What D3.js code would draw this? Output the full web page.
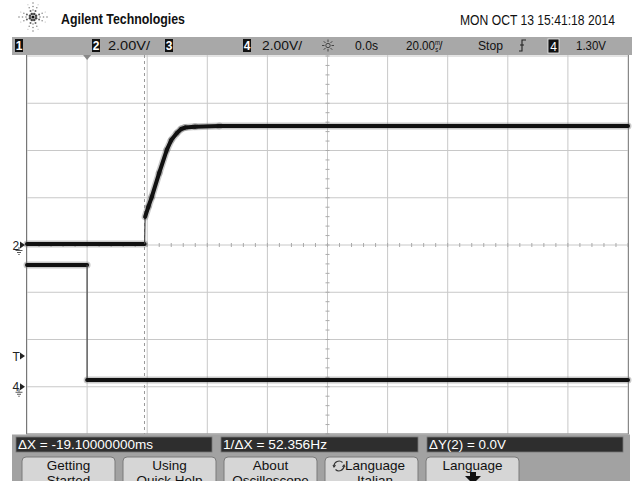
<!DOCTYPE html>
<html><head><meta charset="utf-8">
<script src="https://cdn.jsdelivr.net/npm/d3@7"></script>
<style>html,body{margin:0;padding:0;background:#fff;overflow:hidden}</style>
</head><body><svg id="c" width="636" height="481"></svg>
<script>
// ---------------- data ----------------
const ch2Time  = [-20, 19.14, 19.3, 20.4, 21.5, 24.0, 26.5, 28.0, 29.9, 31.3, 32.6, 35.9, 44, 180];
const ch2Volts = [0.04, 0.04, 1.19, 1.62, 2.03, 3.05, 4.02, 4.44, 4.74, 4.91, 4.97, 5.01, 5.04, 5.04];
const ch4Time  = [-20, 0, 0, 180];
const ch4Volts = [5.15, 5.15, 0.29, 0.29];
const timeTicks = d3.range(-20, 181, 20);        // 20 ms/div
const ch2VoltTicks = d3.range(-8, 8.01, 2);      // 2.00 V/div
const cursorTime = 19.1;
const triggerTime = 0;
const triggerLevel = 1.30;
const headerTitle = "Agilent Technologies";
const headerDate = "MON OCT 13 15:41:18 2014";
const channelBoxes = ["1", "2", "3", "4"];
const channelScales = ["2.00V/", "2.00V/"];
const timeLabels = ["0.0s", "20.00", "Stop", "1.30V"];
const readouts = ["ΔX = -19.10000000ms", "1/ΔX = 52.356Hz", "ΔY(2) = 0.0V"];
const softkeys = [["Getting", "Started"], ["Using", "Quick Help"], ["About", "Oscilloscope"], ["Language", "Italian"], ["Language", ""]];

// ---------------- setup ----------------
const svg = d3.select("#c");
const FONT = "'Liberation Sans Narrow','Arial Narrow','Liberation Sans',Arial,sans-serif";
svg.append("rect").attr("width", 636).attr("height", 481).attr("fill", "#fff");

const x = d3.scaleLinear().domain([-20, 180]).range([27, 628]);
const y2 = d3.scaleLinear().domain([-8, 8]).range([434, 56]);
const y4 = d3.scaleLinear().domain([-2, 14]).range([434, 56]);

// ---------------- logo & title ----------------
const logo = svg.append("g").attr("transform", "translate(33,17)");
for (let a = 0; a < 8; a++) {
  const ang = a * Math.PI / 4 + Math.PI / 8;
  for (let k = 1; k <= 4; k++) {
    const r = k * 3.3;
    logo.append("circle").attr("cx", Math.cos(ang) * r).attr("cy", Math.sin(ang) * r)
      .attr("r", 1.5 - k * 0.25).attr("fill", "#222").attr("opacity", 1 - k * 0.15);
  }
}
for (let a = 0; a < 4; a++) {
  const ang = a * Math.PI / 2;
  for (let k = 1; k <= 4; k++) {
    const r = k * 3.5;
    logo.append("circle").attr("cx", Math.cos(ang) * r).attr("cy", Math.sin(ang) * r)
      .attr("r", 0.8).attr("fill", "#555").attr("opacity", 0.7);
  }
}
logo.append("circle").attr("r", 1.6).attr("fill", "#111");

svg.append("text").attr("x", 61).attr("y", 24).text(headerTitle)
  .attr("font-family", FONT).attr("font-weight", "bold").attr("font-size", 15)
  .attr("textLength", 124).attr("lengthAdjust", "spacingAndGlyphs").attr("fill", "#111");
svg.append("text").attr("x", 460).attr("y", 25).text(headerDate)
  .attr("font-family", FONT).attr("font-size", 14.5)
  .attr("textLength", 155).attr("lengthAdjust", "spacingAndGlyphs").attr("fill", "#111");

// ---------------- header bar ----------------
svg.append("rect").attr("x", 12).attr("y", 37).attr("width", 620).attr("height", 18).attr("fill", "#a8a8a8");
const boxX = [15, 92, 165, 243];
channelBoxes.forEach((c, i) => {
  svg.append("rect").attr("x", boxX[i]).attr("y", 39).attr("width", 8).attr("height", 13).attr("fill", "#111");
  svg.append("text").attr("x", boxX[i] + 4).attr("y", 50).attr("text-anchor", "middle").text(c)
    .attr("font-family", FONT).attr("font-weight", "bold").attr("font-size", 12).attr("fill", "#fff");
});
const hdrText = (s, x0, w) => svg.append("text").attr("x", x0).attr("y", 50).text(s)
  .attr("font-family", FONT).attr("font-size", 13.5).attr("fill", "#111")
  .attr("textLength", w).attr("lengthAdjust", "spacingAndGlyphs");
hdrText(channelScales[0], 108, 42);
hdrText(channelScales[1], 262, 40);
hdrText(timeLabels[0], 355, 23);
// time/div with stacked "ms" unit glyph, as one text element
const tdiv = svg.append("g").attr("transform", "translate(406,50) scale(0.86,1)")
  .append("text").attr("font-family", FONT).attr("font-size", 13.5).attr("fill", "#111");
tdiv.append("tspan").text(timeLabels[1]);
tdiv.append("tspan").attr("font-size", 7).attr("dy", -5).text("m");
tdiv.append("tspan").attr("font-size", 7).attr("dx", -5.5).attr("dy", 6.5).text("s");
tdiv.append("tspan").attr("dx", 1).attr("dy", -1.5).text("/");
hdrText(timeLabels[2], 478, 25);
hdrText(timeLabels[3], 576, 30);
// sun icon
const sun = svg.append("g").attr("transform", "translate(328,45.5)").attr("stroke", "#444").attr("stroke-width", 1);
sun.append("circle").attr("r", 2.2).attr("fill", "none");
for (let a = 0; a < 8; a++) {
  const ang = a * Math.PI / 4;
  sun.append("line").attr("x1", Math.cos(ang) * 3.5).attr("y1", Math.sin(ang) * 3.5)
    .attr("x2", Math.cos(ang) * 6).attr("y2", Math.sin(ang) * 6);
}
// trigger edge icon
svg.append("path").attr("d", "M519,51 H522 V40 H526 M520,45 H524").attr("stroke", "#222").attr("stroke-width", 1.1).attr("fill", "none");
// trigger source box 4
svg.append("rect").attr("x", 548).attr("y", 39).attr("width", 11).attr("height", 14).attr("fill", "#111").attr("stroke", "#eee").attr("stroke-width", 0.8);
svg.append("text").attr("x", 553.5).attr("y", 50.5).attr("text-anchor", "middle").text("4")
  .attr("font-family", FONT).attr("font-size", 12).attr("fill", "#fff");

// ---------------- grid ----------------
const grid = svg.append("g");
timeTicks.forEach(t => grid.append("line").attr("x1", x(t)).attr("x2", x(t)).attr("y1", 55).attr("y2", 434)
  .attr("stroke", "#c8c8c8").attr("stroke-width", 1));
ch2VoltTicks.forEach(v => grid.append("line").attr("x1", 27).attr("x2", 628).attr("y1", y2(v)).attr("y2", y2(v))
  .attr("stroke", "#c8c8c8").attr("stroke-width", 1));
// minor ticks on center axes
const dxMinor = (x(20) - x(0)) / 5, dyMinor = (y2(0) - y2(2)) / 5;
for (let px = 27; px <= 628.5; px += dxMinor)
  grid.append("line").attr("x1", px).attr("x2", px).attr("y1", y2(0) - 2).attr("y2", y2(0) + 2).attr("stroke", "#aaa");
for (let py = 56; py <= 434.5; py += dyMinor)
  grid.append("line").attr("x1", x(80) - 2).attr("x2", x(80) + 2).attr("y1", py).attr("y2", py).attr("stroke", "#aaa");
// borders
grid.append("line").attr("x1", 26.5).attr("x2", 26.5).attr("y1", 55).attr("y2", 434).attr("stroke", "#777");
grid.append("line").attr("x1", 628.5).attr("x2", 628.5).attr("y1", 55).attr("y2", 434).attr("stroke", "#888");
grid.append("line").attr("x1", 26).attr("x2", 629).attr("y1", 434).attr("y2", 434).attr("stroke", "#888");
// trigger position marker
const tx = x(triggerTime);
svg.append("path").attr("d", `M${tx - 4},55 L${tx + 4},55 L${tx},60 Z`).attr("fill", "#888");
// cursor
svg.append("line").attr("x1", x(cursorTime)).attr("x2", x(cursorTime)).attr("y1", 55).attr("y2", 434)
  .attr("stroke", "#999").attr("stroke-dasharray", "3,3").attr("stroke-width", 1);

// ---------------- traces ----------------
function drawTrace(times, volts, yScale) {
  const g = svg.append("g");
  const pts = times.map((t, i) => [x(t), yScale(volts[i])]);
  for (let i = 0; i < pts.length - 1; i++) {
    const [xa, ya] = pts[i], [xb, yb] = pts[i + 1];
    const steep = Math.abs(xb - xa) < 1.2;
    if (!steep) g.append("line").attr("x1", xa).attr("y1", ya).attr("x2", xb).attr("y2", yb)
      .attr("stroke", "#777").attr("stroke-opacity", 0.4).attr("stroke-width", 7).attr("stroke-linecap", "round");
  }
  for (let i = 0; i < pts.length - 1; i++) {
    const [xa, ya] = pts[i], [xb, yb] = pts[i + 1];
    const steep = Math.abs(xb - xa) < 1.2;
    g.append("line").attr("x1", xa).attr("y1", ya).attr("x2", xb).attr("y2", yb)
      .attr("stroke", steep ? "#444" : "#111").attr("stroke-width", steep ? 1.2 : 4).attr("stroke-linecap", steep ? "butt" : "round");
  }
}
drawTrace(ch4Time, ch4Volts, y4);
drawTrace(ch2Time, ch2Volts, y2);

// ---------------- left markers ----------------
function marker(label, yy, ground) {
  svg.append("text").attr("x", 12.5).attr("y", yy + 4.5).text(label)
    .attr("font-family", FONT).attr("font-size", 12).attr("fill", "#222");
  svg.append("path").attr("d", `M20,${yy - 3.5} L25,${yy} L20,${yy + 3.5} Z`).attr("fill", "#222");
  if (ground) {
    svg.append("path").attr("d", `M19,${yy + 2} V${yy + 5} M15.5,${yy + 5.5} H22.5 M17,${yy + 7.5} H21 M18.3,${yy + 9.5} H19.7`)
      .attr("stroke", "#444").attr("stroke-width", 0.9).attr("fill", "none");
  }
}
marker("2", y2(0), true);
marker("T", y4(triggerLevel), false);
marker("4", y4(0), true);

// ---------------- bottom panel ----------------
svg.append("rect").attr("x", 12).attr("y", 434.5).attr("width", 618).attr("height", 47).attr("fill", "#a2a2a2");
const roX = [16, 221, 427], roW = [196, 197, 196], roTW = [135, 104, 77];
readouts.forEach((s, i) => {
  svg.append("rect").attr("x", roX[i]).attr("y", 437).attr("width", roW[i]).attr("height", 15)
    .attr("fill", "#2e2e2e").attr("stroke", "#777").attr("stroke-width", 0.8);
  svg.append("text").attr("x", roX[i] + 2).attr("y", 449).text(s)
    .attr("font-family", FONT).attr("font-size", 13.5).attr("fill", "#fff")
    .attr("textLength", roTW[i]).attr("lengthAdjust", "spacingAndGlyphs");
});
const skX = [22, 123, 224, 325, 426];
softkeys.forEach((lines, i) => {
  svg.append("rect").attr("x", skX[i]).attr("y", 457).attr("width", 93).attr("height", 40).attr("rx", 4)
    .attr("fill", "#d6d6d6").attr("stroke", "#7a7a7a").attr("stroke-width", 1);
  const cx = i === 3 ? skX[i] + 50 : skX[i] + 46.5;
  svg.append("text").attr("x", cx).attr("y", 469.5).attr("text-anchor", "middle").text(lines[0])
    .attr("font-family", FONT).attr("font-size", 13.5).attr("fill", "#111");
  if (lines[1]) svg.append("text").attr("x", cx).attr("y", 485).attr("text-anchor", "middle").text(lines[1])
    .attr("font-family", FONT).attr("font-size", 13.5).attr("fill", "#111");
});
// rotate icon on Language Italian
const ic = svg.append("g").attr("transform", "translate(339,466)").attr("fill", "none").attr("stroke", "#333").attr("stroke-width", 1.1);
ic.append("path").attr("d", "M-5,0 A5,5 0 0 1 3.5,-3.5");
ic.append("path").attr("d", "M5,0 A5,5 0 0 1 -3.5,3.5");
ic.append("path").attr("d", "M-6,-1 L-5,1 L-3.5,-0.8 M6,1 L5,-1 L3.5,0.8");
// down arrow on Language
svg.append("path").attr("d", "M465,476 H481 L473,484 Z M470,472 H476 V477 H470 Z").attr("fill", "#111");
</script></body></html>
